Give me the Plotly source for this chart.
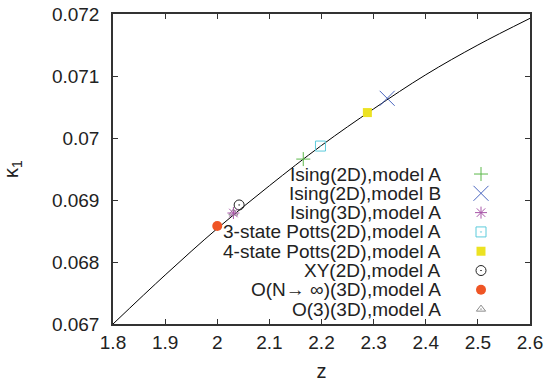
import plotly.graph_objects as go

# ---- data ----
curve_z = [1.80, 1.90, 2.00, 2.10, 2.20, 2.30, 2.40, 2.50, 2.60]
curve_k = [0.06700, 0.06779, 0.06854, 0.06923, 0.06988, 0.07047, 0.07102, 0.07150, 0.07193]

names = ["Ising(2D),model A", "Ising(2D),model B", "Ising(3D),model A",
         "3-state Potts(2D),model A", "4-state Potts(2D),model A",
         "XY(2D),model A", "O(N\u2192 \u221e)(3D),model A", "O(3)(3D),model A"]
pts_z = [2.165, 2.326, 2.031, 2.198, 2.288, 2.042, 2.000, 2.031]
pts_k = [0.06966, 0.07064, 0.06879, 0.06987, 0.07041, 0.06892, 0.06858, 0.06879]

symbols = ["cross-thin-open", "x-thin-open", "asterisk-open", "square-open-dot",
           "square", "circle-open-dot", "circle", "triangle-up-open-dot"]
colors = ["#5cb84a", "#4a66c0", "#a856a8", "#5ccbdb", "#ece222", "#222222", "#ef5525", "#8a8a8a"]
msizes = [10, 15, 10, 10, 9, 10, 10, 8]

FONT = "Liberation Sans, Arial, sans-serif"
fig = go.Figure()

fig.add_trace(go.Scatter(x=curve_z, y=curve_k, mode="lines", line=dict(color="black", width=1, shape="spline"),
                         showlegend=False, hoverinfo="skip"))

draw_order = [7, 0, 1, 3, 4, 5, 2, 6]
for i in draw_order:
    filled = symbols[i] in ("square", "circle")
    fig.add_trace(go.Scatter(
        x=[pts_z[i]], y=[pts_k[i]], mode="markers", showlegend=False,
        marker=dict(symbol=symbols[i], size=msizes[i], color=colors[i],
                    line=dict(color=colors[i], width=0 if filled else 1))))

# custom legend: text right-aligned, symbol to its right
rows = list(range(len(names)))
for i in rows:
    filled = symbols[i] in ("square", "circle")
    fig.add_trace(go.Scatter(
        x=[0.8825], y=[i], xaxis="x2", yaxis="y2", mode="markers", showlegend=False,
        marker=dict(symbol=symbols[i], size=msizes[i], color=colors[i],
                    line=dict(color=colors[i], width=0 if filled else 1))))
    fig.add_annotation(x=0.791, y=i, xref="x2", yref="y2", text=names[i], showarrow=False,
                       xanchor="right", yanchor="middle", font=dict(family=FONT, size=19, color="#222"))

axis_common = dict(showline=True, linecolor="#333", linewidth=1.5, mirror="ticks", ticks="inside",
                   ticklen=5, tickcolor="#333", showgrid=False, zeroline=False, automargin=False,
                   tickfont=dict(family=FONT, size=19, color="#222"))

fig.update_layout(
    width=545, height=382, margin=dict(l=113, r=15, t=14, b=58, autoexpand=False),
    paper_bgcolor="white", plot_bgcolor="white",
    xaxis=dict(range=[1.8, 2.6], dtick=0.1, tickformat="~g",
               title=dict(text="z", font=dict(family=FONT, size=20, color="#222"), standoff=14),
               **axis_common),
    yaxis=dict(range=[0.067, 0.072], dtick=0.001, tickformat="~g", ticklabelstandoff=8,
               title=dict(text="\u03ba<sub>1</sub>", font=dict(family=FONT, size=20, color="#222"), standoff=30),
               **axis_common),
    xaxis2=dict(overlaying="x", range=[0, 1], visible=False),
    yaxis2=dict(overlaying="y", range=[7.77, -8.29], visible=False),
)

fig.write_html("out.html")
